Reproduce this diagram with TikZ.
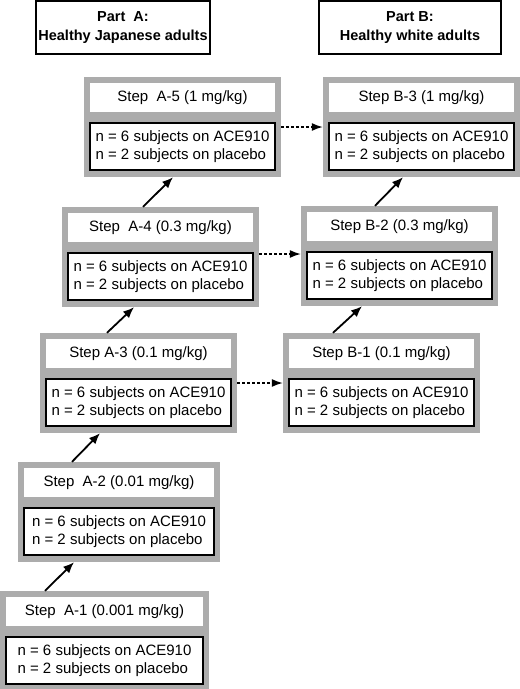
\documentclass[tikz,border=0pt]{standalone}
\usepackage{fontspec}
\setmainfont{Liberation Sans}
\usetikzlibrary{arrows.meta}

\definecolor{framegray}{RGB}{172,172,172}

\begin{document}
\begin{tikzpicture}[x=1pt,y=-1pt,
	stepframe/.style={fill=framegray,inner sep=0pt,minimum width=197pt,minimum height=100pt},
	steptitle/.style={fill=white,inner sep=0pt,minimum width=185pt,minimum height=29pt,font=\fontsize{15}{17}\selectfont},
	stepbody/.style={draw,fill=white,line width=2pt,inner sep=0pt,minimum width=185pt,minimum height=47pt,align=left,font=\fontsize{15}{18}\selectfont},
	parthead/.style={draw,line width=1.2pt,inner sep=0pt,minimum height=53pt,align=center,font=\bfseries\fontsize{14.5}{19}\selectfont},
	upar/.style={line width=1.8pt,-{Latex[length=11pt,width=9pt]}},
	sidear/.style={line width=1.4pt,dash pattern=on 3pt off 2pt,-{Latex[length=11pt,width=8pt]}}]

	\useasboundingbox (0,0) rectangle (520,689);

	\node[parthead,minimum width=174pt] (pa) at (123,27.5) {Part~~A:\\Healthy Japanese adults};
	\node[parthead,minimum width=182pt] (pb) at (410,27.5) {Part B:\\Healthy white adults};

	% part A
	\node[stepframe] (a5) at (182.5,127) {};
	\node[steptitle] (a5t) at (182.5,97.5) {Step~~A-5 (1 mg/kg)};
	\node[stepbody] (a5b) at (182.5,146.5) {n = 6 subjects on ACE910\\n = 2 subjects on placebo};

	\node[stepframe] (a4) at (160.5,257) {};
	\node[steptitle] (a4t) at (160.5,227.5) {Step~~A-4 (0.3 mg/kg)};
	\node[stepbody] (a4b) at (160.5,276.5) {n = 6 subjects on ACE910\\n = 2 subjects on placebo};

	\node[stepframe] (a3) at (138.5,383) {};
	\node[steptitle] (a3t) at (138.5,353.5) {Step A-3 (0.1 mg/kg)};
	\node[stepbody] (a3b) at (138.5,402.5) {n = 6 subjects on ACE910\\n = 2 subjects on placebo};

	\node[stepframe,minimum width=202pt] (a2) at (119,512) {};
	\node[steptitle,minimum width=190pt] (a2t) at (119,482.5) {Step~~A-2 (0.01 mg/kg)};
	\node[stepbody,minimum width=190pt] (a2b) at (119,531.5) {n = 6 subjects on ACE910\\n = 2 subjects on placebo};

	\node[stepframe,minimum width=209pt] (a1) at (104.5,641) {};
	\node[steptitle,minimum width=197pt] (a1t) at (104.5,611.5) {Step~~A-1 (0.001 mg/kg)};
	\node[stepbody,minimum width=197pt] (a1b) at (104.5,660.5) {n = 6 subjects on ACE910\\n = 2 subjects on placebo};

	% part B
	\node[stepframe] (b3) at (421.5,127) {};
	\node[steptitle] (b3t) at (421.5,97.5) {Step B-3 (1 mg/kg)};
	\node[stepbody] (b3b) at (421.5,146.5) {n = 6 subjects on ACE910\\n = 2 subjects on placebo};

	\node[stepframe] (b2) at (399.5,256) {};
	\node[steptitle] (b2t) at (399.5,226.5) {Step B-2 (0.3 mg/kg)};
	\node[stepbody] (b2b) at (399.5,275.5) {n = 6 subjects on ACE910\\n = 2 subjects on placebo};

	\node[stepframe] (b1) at (381.5,383) {};
	\node[steptitle] (b1t) at (381.5,353.5) {Step B-1 (0.1 mg/kg)};
	\node[stepbody] (b1b) at (381.5,402.5) {n = 6 subjects on ACE910\\n = 2 subjects on placebo};

	\draw[upar] ([xshift=-59.5pt]a1.north) -- ([xshift=-45pt]a2.south);
	\draw[upar] ([xshift=-47pt]a2.north) -- ([xshift=-38.5pt]a3.south);
	\draw[upar] ([xshift=-31.5pt]a3.north) -- ([xshift=-26.5pt]a4.south);
	\draw[upar] ([xshift=-17.5pt]a4.north) -- ([xshift=-9.5pt]a5.south);
	\draw[upar] ([xshift=-48.5pt]b1.north) -- ([xshift=-37.5pt]b2.south);
	\draw[upar] ([xshift=-24.5pt]b2.north) -- ([xshift=-18.5pt]b3.south);

	\draw[sidear] (a5.east) -- (b3.west);
	\draw[sidear] ([yshift=3pt]a4.east) -- ([yshift=3pt]a4.east -| b2.west);
	\draw[sidear] (a3.east) -- (b1.west);

\end{tikzpicture}
\end{document}
